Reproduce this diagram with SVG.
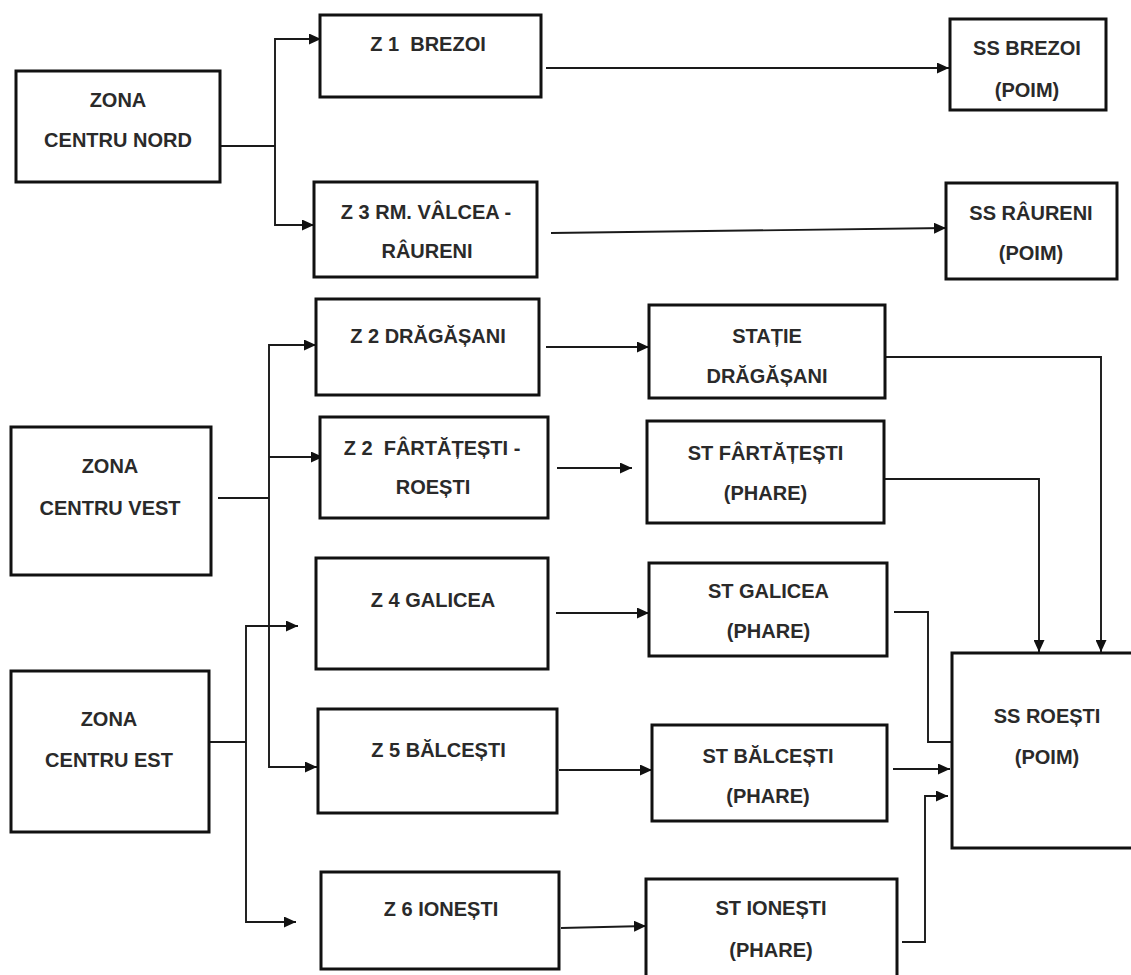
<svg xmlns="http://www.w3.org/2000/svg" width="1131" height="975" viewBox="0 0 1131 975">
<defs>
<marker id="ah" markerWidth="13" markerHeight="11" refX="12" refY="5.5" orient="auto" markerUnits="userSpaceOnUse">
<path d="M0,0 L12,5.5 L0,11 Z" fill="#111"/>
</marker>
<style>
.box{fill:#fff;stroke:#111;stroke-width:3}
.t{font-family:"Liberation Sans",Arial,sans-serif;font-weight:bold;font-size:20px;fill:#2a2a2a;text-anchor:middle}
.c{fill:none;stroke:#1a1a1a;stroke-width:1.9}
.a{marker-end:url(#ah)}
</style>
</defs>
<rect width="1131" height="975" fill="#fff"/>
<g id="connectors">
<path class="c" d="M220,146 H275"/>
<path class="c a" d="M275,146 V39 H321"/>
<path class="c a" d="M275,146 V225 H314"/>
<path class="c a" d="M546,68 H949"/>
<path class="c a" d="M551,233 L946,228"/>
<path class="c" d="M218,498 H269"/>
<path class="c a" d="M269,498 V345 H316"/>
<path class="c a" d="M269,457 H323"/>
<path class="c a" d="M269,498 V767 H317"/>
<path class="c" d="M197,742 H246"/>
<path class="c a" d="M246,742 V626 H298"/>
<path class="c a" d="M246,742 V922 H296"/>
<path class="c a" d="M546,347 H649"/>
<path class="c a" d="M557,468 H632"/>
<path class="c a" d="M556,613 H649"/>
<path class="c a" d="M559,770 H652"/>
<path class="c a" d="M561,928 L646,926"/>
<path class="c a" d="M885,357 H1101 V652"/>
<path class="c a" d="M884,479 H1039 V652"/>
<path class="c a" d="M894,612 H928 V742 H963"/>
<path class="c a" d="M893,769 H950"/>
<path class="c a" d="M902,942 H925 V796 H948"/>
</g>
<g id="zona-centru-nord">
<rect class="box" x="16" y="71" width="204" height="111"/>
<text class="t" x="118" y="107">ZONA</text>
<text class="t" x="118" y="147">CENTRU NORD</text>
</g>
<g id="z1-brezoi">
<rect class="box" x="320" y="15" width="221" height="82"/>
<text class="t" x="428" y="51" xml:space="preserve">Z 1  BREZOI</text>
</g>
<g id="z3-ramnicu">
<rect class="box" x="314" y="182" width="223" height="95"/>
<text class="t" x="426" y="219">Z 3 RM. VÂLCEA -</text>
<text class="t" x="427" y="258">RÂURENI</text>
</g>
<g id="ss-brezoi">
<rect class="box" x="950" y="19" width="156" height="91"/>
<text class="t" x="1027" y="55">SS BREZOI</text>
<text class="t" x="1027" y="97">(POIM)</text>
</g>
<g id="ss-raureni">
<rect class="box" x="946" y="183" width="171" height="96"/>
<text class="t" x="1031" y="220">SS RÂURENI</text>
<text class="t" x="1031" y="260">(POIM)</text>
</g>
<g id="zona-centru-vest">
<rect class="box" x="11" y="427" width="200" height="148"/>
<text class="t" x="110" y="473">ZONA</text>
<text class="t" x="110" y="515">CENTRU VEST</text>
</g>
<g id="z2-dragasani">
<rect class="box" x="316" y="299" width="223" height="96"/>
<text class="t" x="428" y="343">Z 2 DRĂGĂȘANI</text>
</g>
<g id="statie-dragasani">
<rect class="box" x="649" y="305" width="236" height="93"/>
<text class="t" x="767" y="343">STAȚIE</text>
<text class="t" x="767" y="383">DRĂGĂȘANI</text>
</g>
<g id="z2-fartatesti">
<rect class="box" x="320" y="417" width="228" height="101"/>
<text class="t" x="432" y="455" xml:space="preserve">Z 2  FÂRTĂȚEȘTI -</text>
<text class="t" x="433" y="494">ROEȘTI</text>
</g>
<g id="st-fartatesti">
<rect class="box" x="647" y="421" width="237" height="102"/>
<text class="t" x="765.5" y="460">ST FÂRTĂȚEȘTI</text>
<text class="t" x="765.5" y="500">(PHARE)</text>
</g>
<g id="z4-galicea">
<rect class="box" x="316" y="558" width="232" height="111"/>
<text class="t" x="433" y="607">Z 4 GALICEA</text>
</g>
<g id="st-galicea">
<rect class="box" x="649" y="563" width="238" height="93"/>
<text class="t" x="768.5" y="598">ST GALICEA</text>
<text class="t" x="768.5" y="638">(PHARE)</text>
</g>
<g id="zona-centru-est">
<rect class="box" x="11" y="671" width="198" height="161"/>
<text class="t" x="109" y="726">ZONA</text>
<text class="t" x="109" y="767">CENTRU EST</text>
</g>
<g id="z5-balcesti">
<rect class="box" x="318" y="709" width="239" height="104"/>
<text class="t" x="438.5" y="757">Z 5 BĂLCEȘTI</text>
</g>
<g id="st-balcesti">
<rect class="box" x="652" y="725" width="235" height="96"/>
<text class="t" x="768" y="763">ST BĂLCEȘTI</text>
<text class="t" x="768" y="803">(PHARE)</text>
</g>
<g id="ss-roesti">
<rect class="box" x="952" y="653" width="190" height="195"/>
<text class="t" x="1047" y="723">SS ROEȘTI</text>
<text class="t" x="1047" y="764">(POIM)</text>
</g>
<g id="z6-ionesti">
<rect class="box" x="321" y="872" width="238" height="97"/>
<text class="t" x="441" y="916">Z 6 IONEȘTI</text>
</g>
<g id="st-ionesti">
<rect class="box" x="646" y="879" width="251" height="110"/>
<text class="t" x="771" y="915">ST IONEȘTI</text>
<text class="t" x="771" y="957">(PHARE)</text>
</g>
</svg>
